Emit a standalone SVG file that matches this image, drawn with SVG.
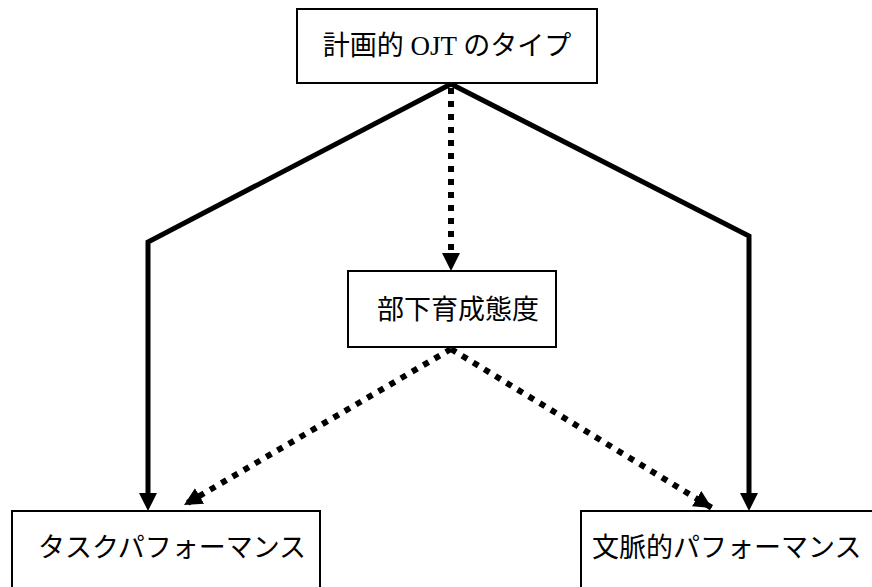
<svg xmlns="http://www.w3.org/2000/svg" width="872" height="587" viewBox="0 0 872 587">
<defs>
<style>
.box{fill:#fff;stroke:#000;stroke-width:2}
.t{font-family:"Liberation Serif","Noto Sans CJK JP",serif;font-size:27px;fill:#000}
.solid{fill:none;stroke:#000;stroke-width:5;stroke-linejoin:miter}
.dot{fill:none;stroke:#000;stroke-width:6;stroke-dasharray:6 7}
</style>
<marker id="ah" viewBox="0 0 10 10" refX="10" refY="5" markerUnits="userSpaceOnUse" markerWidth="18" markerHeight="18" orient="auto">
<path d="M0,0 L10,5 L0,10 Z" fill="#000"/>
</marker>
</defs>
<rect width="872" height="587" fill="#fff"/>
<g id="connectors">
<polyline class="solid" points="451,84 148,242 148,494" />
<path d="M139,493 L157,493 L148,511 Z" fill="#000"/>
<polyline class="solid" points="451,84 749,236 749,494" />
<path d="M740,493 L758,493 L749,511 Z" fill="#000"/>
<line class="dot" x1="451" y1="88" x2="451" y2="254" />
<path d="M442,253 L460,253 L451,271 Z" fill="#000"/>
<line class="dot" x1="451" y1="349" x2="184" y2="505" marker-end="url(#ah)"/>
<line class="dot" x1="451" y1="349" x2="712" y2="508" marker-end="url(#ah)"/>
</g>
<g id="n-top">
<rect class="box" x="297" y="9" width="300" height="74"/>
<text class="t" x="447" y="55" text-anchor="middle">計画的 OJT のタイプ</text>
</g>
<g id="n-mid">
<rect class="box" x="348" y="271" width="208" height="76"/>
<text class="t" x="458" y="319" text-anchor="middle">部下育成態度</text>
</g>
<g id="n-left">
<rect class="box" x="12" y="511" width="308" height="86"/>
<text class="t" x="38" y="557">タスクパフォーマンス</text>
</g>
<g id="n-right">
<rect class="box" x="581" y="511" width="300" height="86"/>
<text class="t" x="592" y="557">文脈的パフォーマンス</text>
</g>
</svg>
